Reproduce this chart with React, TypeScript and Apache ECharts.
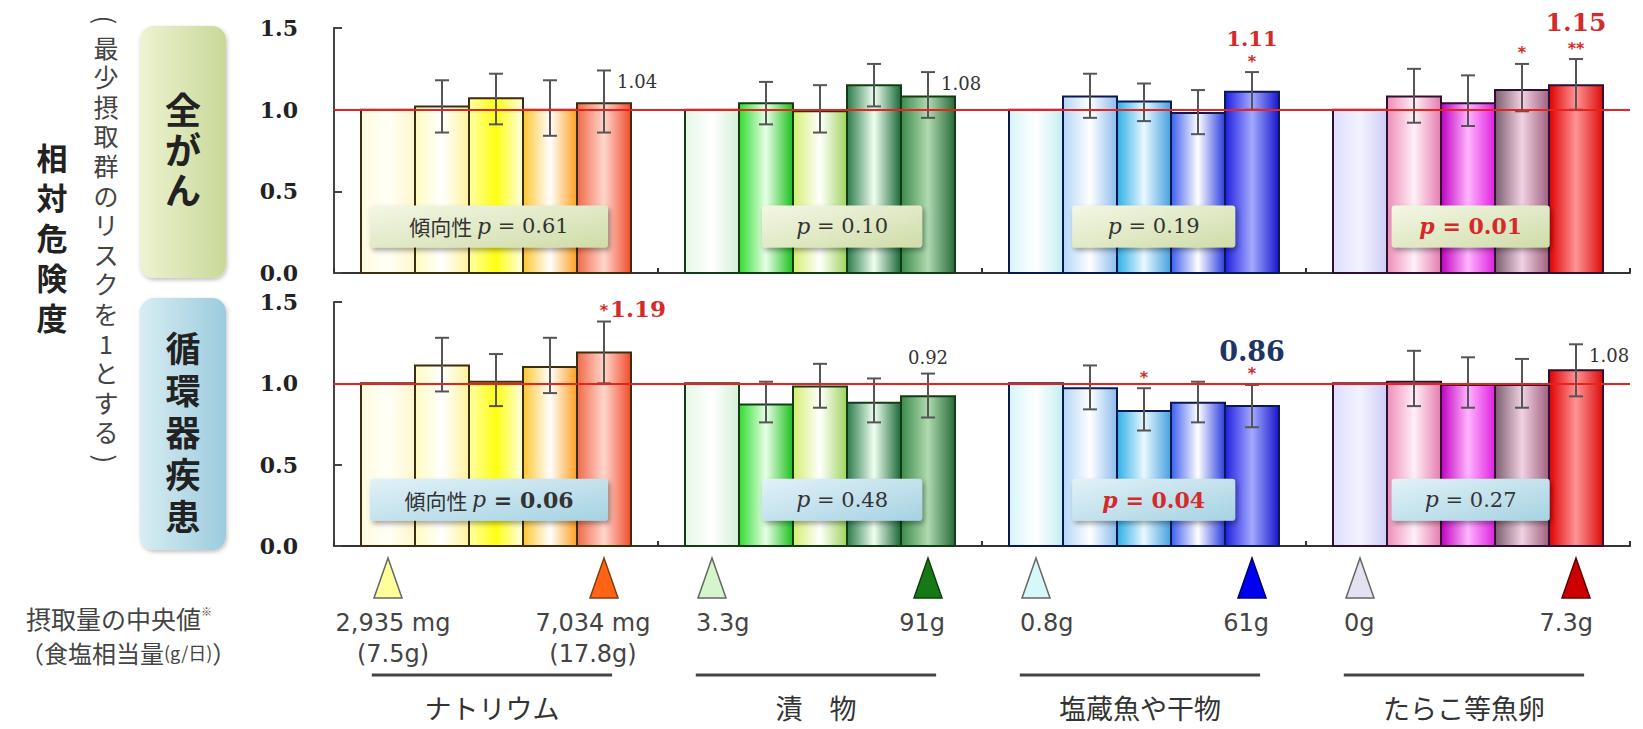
import React, { useEffect, useRef } from "react";
import * as echarts from "echarts";

// ---------------- data ----------------
const groupNames = ["ナトリウム", "漬　物", "塩蔵魚や干物", "たらこ等魚卵"];
const panelTitles = ["全\nが\nん", "循\n環\n器\n疾\n患"];
const yTicks = [0, 0.5, 1.0, 1.5];

// 全がん (relative risk, 95% CI)
const cancerRR = [
  [1.0, 1.02, 1.07, 1.0, 1.04],
  [1.0, 1.04, 0.99, 1.15, 1.08],
  [1.0, 1.08, 1.05, 0.98, 1.11],
  [1.0, 1.08, 1.04, 1.12, 1.15],
];
const cancerLow = [
  [null, 0.86, 0.91, 0.84, 0.86],
  [null, 0.91, 0.86, 1.02, 0.95],
  [null, 0.95, 0.93, 0.85, 1.0],
  [null, 0.92, 0.9, 0.99, 1.0],
];
const cancerHigh = [
  [null, 1.18, 1.22, 1.18, 1.24],
  [null, 1.17, 1.15, 1.28, 1.23],
  [null, 1.22, 1.16, 1.12, 1.23],
  [null, 1.25, 1.21, 1.28, 1.31],
];
const cancerSig = [
  ["", "", "", "", ""],
  ["", "", "", "", ""],
  ["", "", "", "", "*"],
  ["", "", "", "*", "**"],
];
const cancerNotes = [
  ["", "", "", "", "1.04"],
  ["", "", "", "", "1.08"],
  ["", "", "", "", "1.11"],
  ["", "", "", "", "1.15"],
];
const cancerTrendP = ["0.61", "0.10", "0.19", "0.01"];

// 循環器疾患
const cvdRR = [
  [1.0, 1.11, 1.01, 1.1, 1.19],
  [1.0, 0.87, 0.98, 0.88, 0.92],
  [1.0, 0.97, 0.83, 0.88, 0.86],
  [1.0, 1.01, 0.99, 0.99, 1.08],
];
const cvdLow = [
  [null, 0.95, 0.86, 0.94, 1.0],
  [null, 0.76, 0.85, 0.76, 0.79],
  [null, 0.84, 0.71, 0.76, 0.73],
  [null, 0.86, 0.85, 0.85, 0.92],
];
const cvdHigh = [
  [null, 1.28, 1.18, 1.28, 1.38],
  [null, 1.01, 1.12, 1.03, 1.06],
  [null, 1.11, 0.97, 1.01, 0.99],
  [null, 1.2, 1.16, 1.15, 1.24],
];
const cvdSig = [
  ["", "", "", "", "*"],
  ["", "", "", "", ""],
  ["", "", "*", "", "*"],
  ["", "", "", "", ""],
];
const cvdNotes = [
  ["", "", "", "", "1.19"],
  ["", "", "", "", "0.92"],
  ["", "", "", "", "0.86"],
  ["", "", "", "", "1.08"],
];
const cvdTrendP = ["0.06", "0.48", "0.04", "0.27"];

const lowIntake = ["2,935 mg\n(7.5g)", "3.3g", "0.8g", "0g"];
const highIntake = ["7,034 mg\n(17.8g)", "91g", "61g", "7.3g"];

// ---------------- styles / layout ----------------
const RED = "#d42a2a";
const NAVY = "#1c3565";
const BAR_COLORS = [
  [
    ["#fffbe0", "#fffff6", "#fff6cc"],
    ["#fffbc0", "#ffffff", "#fff39a"],
    ["#ffffa8", "#ffff10", "#fffde6"],
    ["#ffc630", "#ffffff", "#ffa020"],
    ["#f06a48", "#ffd6cc", "#f04c2c"],
  ],
  [
    ["#e6f7e6", "#ffffff", "#d6efd6"],
    ["#30dc30", "#e8ffe8", "#1cbf1c"],
    ["#d4ee70", "#ffffff", "#9fd45c"],
    ["#2a7a4a", "#f0fff0", "#186838"],
    ["#3a8a4a", "#b0dab0", "#276a38"],
  ],
  [
    ["#d6f6f8", "#ffffff", "#c4eef2"],
    ["#b4d6f6", "#ffffff", "#8cbcee"],
    ["#2eaee6", "#e8f8ff", "#46a0e0"],
    ["#3c5cf0", "#ffffff", "#2c3ce0"],
    ["#1e1ee0", "#a4aaff", "#1616cc"],
  ],
  [
    ["#dedeff", "#f2f2ff", "#ceceF6"],
    ["#ee8cb6", "#fff0f8", "#e67cae"],
    ["#c000c0", "#ffb4ff", "#e020e0"],
    ["#7c5c6e", "#f0d2e2", "#a06080"],
    ["#e00000", "#ff9494", "#dc0c0c"],
  ],
];
const BAR_BORDER = ["#3c2c10", "#143c14", "#0a1a50", "#301030"];
const TRI_FILL = [
  ["#ffff99", "#ff6414"],
  ["#d6f5cc", "#157a15"],
  ["#d6f8f8", "#0000f0"],
  ["#e2e2f0", "#cc0000"],
];
const TRI_STROKE = ["#8a3a10", "#0c400c", "#00006a", "#600000"];
const BOX_CENTER = [2.87, 3.41, 3.18, 3.05];
const BOX_W = [238, 160, 163, 158];
const PANEL_KIND = [
  { notes: ["right", "right", "redTop", "redTopBig"], p: ["plain", "plain", "plain", "red"], box: ["#f4f7e6", "#cfdca8"] },
  { notes: ["redInline", "plainTop", "navyTop", "right"], p: ["bold", "plain", "red", "plain"], box: ["#e2f2f8", "#a6d2e2"] },
];

const panels = [
  { rr: cancerRR, low: cancerLow, high: cancerHigh, sig: cancerSig, notes: cancerNotes, p: cancerTrendP },
  { rr: cvdRR, low: cvdLow, high: cvdHigh, sig: cvdSig, notes: cvdNotes, p: cvdTrendP },
];

const SERIF = "DejaVu Serif";
const JP = "Noto Sans CJK JP";

function barGrad(c: string[]) {
  return new echarts.graphic.LinearGradient(0, 0, 1, 0, [
    { offset: 0, color: c[0] },
    { offset: 0.5, color: c[1] },
    { offset: 1, color: c[2] },
  ]);
}

function noteEl(kind: string, text: string, x: number, y: number) {
  const base: any = { fontFamily: SERIF, text, verticalAlign: "middle" };
  if (kind === "right") return { type: "text", x: x + 13, y: y + 11, style: { ...base, fontSize: 18, fill: "#333", align: "left" } };
  if (kind === "plainTop") return { type: "text", x, y: y - 16, style: { ...base, fontSize: 18, fill: "#333", align: "center" } };
  if (kind === "redTop") return { type: "text", x, y: y - 34, style: { ...base, fontSize: 21, fontWeight: "bold", fill: RED, align: "center" } };
  if (kind === "redTopBig") return { type: "text", x, y: y - 37, style: { ...base, fontSize: 25, fontWeight: "bold", fill: RED, align: "center" } };
  if (kind === "redInline") return { type: "text", x: x + 6, y: y - 13, style: { ...base, fontSize: 23, fontWeight: "bold", fill: RED, align: "left" } };
  return { type: "text", x, y: y - 33, style: { ...base, fontSize: 27, fontWeight: "bold", fill: NAVY, align: "center" } };
}

function pText(g: number, p: string, kind: string) {
  const pre = g === 0 ? "{c|傾向性 }" : "";
  if (kind === "red") return pre + "{pr|p}{tr| = " + p + "}";
  if (kind === "bold") return pre + "{p|p}{tb| = " + p + "}";
  return pre + "{p|p}{t| = " + p + "}";
}

const RICH = {
  c: { fontFamily: JP, fontSize: 21, fill: "#333" },
  p: { fontFamily: SERIF, fontStyle: "italic", fontSize: 22, fill: "#333" },
  t: { fontFamily: SERIF, fontSize: 21, fill: "#333" },
  tb: { fontFamily: SERIF, fontSize: 22, fontWeight: "bold", fill: "#333" },
  pr: { fontFamily: SERIF, fontStyle: "italic", fontWeight: "bold", fontSize: 22, fill: RED },
  tr: { fontFamily: SERIF, fontSize: 22, fontWeight: "bold", fill: RED },
};

function flatData(k: number) {
  const d: number[][] = [];
  panels[k].rr.forEach((grp, g) => grp.forEach((v, i) => d.push([6 * g + 1 + i, v])));
  return d;
}

function buildOption() {
  const series: any[] = [];
  [0, 1].forEach((k) => {
    const P = panels[k];
    const K = PANEL_KIND[k];
    series.push({
      type: "custom",
      xAxisIndex: k,
      yAxisIndex: k,
      z: 2,
      silent: true,
      data: flatData(k),
      encode: { x: 0, y: 1 },
      renderItem: (params: any, api: any) => {
        const idx = params.dataIndex;
        const g = Math.floor(idx / 5);
        const i = idx % 5;
        const xc = api.value(0);
        const v = api.value(1);
        const a = api.coord([xc - 0.5, v]);
        const b = api.coord([xc + 0.5, 0]);
        return {
          type: "rect",
          shape: { x: a[0], y: a[1], width: b[0] - a[0], height: b[1] - a[1] },
          style: { fill: barGrad(BAR_COLORS[g][i]), stroke: BAR_BORDER[g], lineWidth: 2 },
        };
      },
    });
    series.push({
      type: "custom",
      xAxisIndex: k,
      yAxisIndex: k,
      z: 4,
      silent: true,
      data: flatData(k),
      encode: { x: 0, y: 1 },
      markLine: {
        silent: true,
        symbol: ["none", "none"],
        label: { show: false },
        lineStyle: { color: "#e8231f", width: 2, type: "solid" },
        data: [{ yAxis: 1 }],
      },
      renderItem: (params: any, api: any) => {
        const idx = params.dataIndex;
        const g = Math.floor(idx / 5);
        const i = idx % 5;
        const xc = api.value(0);
        const lo = P.low[g][i];
        const hi = P.high[g][i];
        const children: any[] = [];
        if (lo != null && hi != null) {
          const t = api.coord([xc, hi]);
          const b = api.coord([xc, lo]);
          const st = { stroke: "#555", lineWidth: 2 };
          children.push({ type: "line", shape: { x1: t[0], y1: t[1], x2: b[0], y2: b[1] }, style: st });
          children.push({ type: "line", shape: { x1: t[0] - 7, y1: t[1], x2: t[0] + 7, y2: t[1] }, style: st });
          children.push({ type: "line", shape: { x1: b[0] - 7, y1: b[1], x2: b[0] + 7, y2: b[1] }, style: st });
          if (P.sig[g][i]) {
            children.push({
              type: "text",
              x: t[0],
              y: t[1] - 11,
              style: { text: P.sig[g][i], fontFamily: "DejaVu Sans", fontSize: 16, fontWeight: "bold", fill: RED, align: "center", verticalAlign: "middle" },
            });
          }
          if (P.notes[g][i]) children.push(noteEl(K.notes[g], P.notes[g][i], t[0], t[1]));
        }
        return { type: "group", children };
      },
    });
    series.push({
      type: "custom",
      xAxisIndex: k,
      yAxisIndex: k,
      z: 5,
      silent: true,
      data: P.p.map((_, g) => [6 * g + BOX_CENTER[g], 0.285]),
      encode: { x: 0, y: 1 },
      renderItem: (params: any, api: any) => {
        const g = params.dataIndex;
        const c = api.coord([api.value(0), api.value(1)]);
        const w = BOX_W[g];
        const h = 42;
        return {
          type: "group",
          children: [
            {
              type: "rect",
              shape: { x: c[0] - w / 2, y: c[1] - h / 2, width: w, height: h, r: 3 },
              style: {
                fill: new echarts.graphic.LinearGradient(0, 0, 1, 1, [
                  { offset: 0, color: K.box[0] },
                  { offset: 1, color: K.box[1] },
                ]),
                shadowBlur: 5,
                shadowColor: "rgba(0,0,0,0.35)",
                shadowOffsetX: 2,
                shadowOffsetY: 3,
              },
            },
            {
              type: "text",
              x: c[0],
              y: c[1],
              style: { text: pText(g, P.p[g], K.p[g]), rich: RICH, align: "center", verticalAlign: "middle" },
            },
          ],
        };
      },
    });
  });

  // intake annotations beneath the panels
  series.push({
    type: "custom",
    xAxisIndex: 2,
    yAxisIndex: 2,
    silent: true,
    data: groupNames.map((_, g) => [6 * g + 3, 100]),
    encode: { x: 0, y: 1 },
    renderItem: (params: any, api: any) => {
      const g = params.dataIndex;
      const top = api.coord([0, 100])[1];
      const xs = [6 * g + 1, 6 * g + 5].map((x) => api.coord([x, 100])[0]);
      const children: any[] = [];
      xs.forEach((x, j) => {
        children.push({
          type: "polygon",
          shape: { points: [[x, top + 2], [x - 14, top + 42], [x + 14, top + 42]] },
          style: { fill: TRI_FILL[g][j], stroke: j ? TRI_STROKE[g] : "#666", lineWidth: 1.5 },
        });
      });
      const txt = { fontFamily: "DejaVu Sans", fontSize: 24, fill: "#444", lineHeight: 31, verticalAlign: "top" };
      if (g === 0) {
        children.push({ type: "text", x: xs[0] + 5, y: top + 51, style: { ...txt, text: lowIntake[g], align: "center" } });
        children.push({ type: "text", x: xs[1] - 11, y: top + 51, style: { ...txt, text: highIntake[g], align: "center" } });
      } else {
        children.push({ type: "text", x: xs[0] - 16, y: top + 51, style: { ...txt, text: lowIntake[g], align: "left" } });
        children.push({ type: "text", x: xs[1] + 17, y: top + 51, style: { ...txt, text: highIntake[g], align: "right" } });
      }
      const l0 = api.coord([6 * g + 0.7, 100])[0];
      const l1 = api.coord([6 * g + 5.15, 100])[0];
      children.push({ type: "line", shape: { x1: l0, y1: top + 119, x2: l1, y2: top + 119 }, style: { stroke: "#444", lineWidth: 3 } });
      children.push({
        type: "text",
        x: (l0 + l1) / 2,
        y: top + 151,
        style: { text: groupNames[g], fontFamily: JP, fontSize: 27, fill: "#333", align: "center", verticalAlign: "middle" },
      });
      return { type: "group", children };
    },
  });

  const yMin = yTicks[0];
  const yMax = yTicks[yTicks.length - 1];
  const yInt = yTicks[1] - yTicks[0];

  const axisX = (i: number) => ({
    type: "value",
    gridIndex: i,
    min: 0,
    max: 24,
    interval: 6,
    show: i < 2,
    axisLine: { show: true, onZero: false, lineStyle: { color: "#333", width: 2 } },
    axisTick: { show: true, inside: true, length: 5, lineStyle: { color: "#333", width: 2 } },
    axisLabel: { show: false },
    splitLine: { show: false },
  });
  const axisY = (i: number) => ({
    type: "value",
    gridIndex: i,
    min: yMin,
    max: yMax,
    interval: yInt,
    axisLine: { show: true, lineStyle: { color: "#444", width: 2 } },
    axisTick: { show: true, inside: true, length: 8, lineStyle: { color: "#444", width: 2 } },
    axisLabel: {
      formatter: (v: number) => v.toFixed(1),
      fontFamily: SERIF,
      fontWeight: "bold",
      fontSize: 22,
      color: "#222",
      margin: 36,
    },
    splitLine: { show: false },
  });

  const vertical = (s: string) => s.split("").join("\n");

  return {
    animation: false,
    backgroundColor: "#ffffff",
    grid: [
      { left: 334, top: 28, width: 1296, height: 245 },
      { left: 334, top: 302, width: 1296, height: 244 },
      { left: 334, top: 556, width: 1296, height: 173 },
    ],
    xAxis: [axisX(0), axisX(1), axisX(2)],
    yAxis: [axisY(0), axisY(1), { type: "value", gridIndex: 2, min: 0, max: 100, show: false }],
    series,
    graphic: [
      // panel title boxes
      {
        type: "rect",
        shape: { x: 140, y: 26, width: 86, height: 252, r: 14 },
        style: {
          fill: new echarts.graphic.LinearGradient(0, 0, 1, 0, [
            { offset: 0, color: "#eef3d2" },
            { offset: 1, color: "#c9d898" },
          ]),
          shadowBlur: 4,
          shadowColor: "rgba(0,0,0,0.25)",
          shadowOffsetX: 1,
          shadowOffsetY: 2,
        },
      },
      {
        type: "rect",
        shape: { x: 140, y: 298, width: 86, height: 252, r: 14 },
        style: {
          fill: new echarts.graphic.LinearGradient(0, 0, 1, 0, [
            { offset: 0, color: "#d8edf3" },
            { offset: 1, color: "#9ccbdd" },
          ]),
          shadowBlur: 4,
          shadowColor: "rgba(0,0,0,0.25)",
          shadowOffsetX: 1,
          shadowOffsetY: 2,
        },
      },
      {
        type: "text",
        x: 183,
        y: 148,
        style: { text: panelTitles[0], fontFamily: JP, fontWeight: "bold", fontSize: 36, lineHeight: 40, fill: "#222", align: "center", verticalAlign: "middle" },
      },
      {
        type: "text",
        x: 183,
        y: 430,
        style: { text: panelTitles[1], fontFamily: JP, fontWeight: "bold", fontSize: 35, lineHeight: 42, fill: "#222", align: "center", verticalAlign: "middle" },
      },
      // y-axis title
      {
        type: "text",
        x: 52,
        y: 236,
        style: { text: vertical("相対危険度"), fontFamily: JP, fontWeight: "bold", fontSize: 31, lineHeight: 40, fill: "#222", align: "center", verticalAlign: "middle" },
      },
      {
        type: "text",
        x: 106,
        y: 20,
        rotation: -Math.PI / 2,
        style: { text: "(", fontFamily: JP, fontSize: 26, fill: "#444", align: "center", verticalAlign: "middle" },
      },
      {
        type: "text",
        x: 106,
        y: 239,
        style: { text: vertical("最少摂取群のリスクを1とする"), fontFamily: JP, fontSize: 25, lineHeight: 29.6, fill: "#444", align: "center", verticalAlign: "middle" },
      },
      {
        type: "text",
        x: 106,
        y: 459,
        rotation: -Math.PI / 2,
        style: { text: ")", fontFamily: JP, fontSize: 26, fill: "#444", align: "center", verticalAlign: "middle" },
      },
      // intake caption
      {
        type: "text",
        x: 26,
        y: 618,
        style: {
          text: "{a|摂取量の中央値}{s|※}",
          rich: { a: { fontFamily: JP, fontSize: 25, fill: "#444" }, s: { fontFamily: JP, fontSize: 11, fill: "#444", verticalAlign: "top", padding: [0, 0, 12, 0] } },
          verticalAlign: "middle",
        },
      },
      {
        type: "text",
        x: 20,
        y: 652,
        style: {
          text: "{a|（食塩相当量}{b|(g/日)}{a|）}",
          rich: { a: { fontFamily: JP, fontSize: 24, fill: "#444" }, b: { fontFamily: JP, fontSize: 18, fill: "#444" } },
          verticalAlign: "middle",
        },
      },
    ],
  };
}

export default function App() {
  const ref = useRef<HTMLDivElement>(null);
  useEffect(() => {
    document.body.style.margin = "0";
    const chart = echarts.init(ref.current as HTMLDivElement, null, { renderer: "svg" });
    chart.setOption(buildOption() as any);
    return () => chart.dispose();
  }, []);
  return (
    <div
      ref={ref}
      style={{ position: "fixed", left: 0, top: 0, width: 1643, height: 729, background: "#fff" }}
    />
  );
}
